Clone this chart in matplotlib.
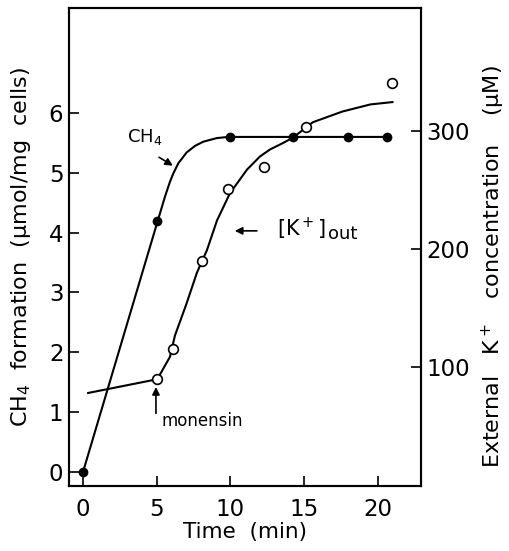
import matplotlib
matplotlib.use("Agg")
import matplotlib.pyplot as plt

plt.rcParams['font.family'] = ['DejaVu Sans']
plt.rcParams['mathtext.default'] = 'regular'

# CH4 formation (left axis, umol/mg cells) - filled circles
ch4_time = [0, 5, 10, 14.25, 18, 20.6]
ch4_val = [0, 4.2, 5.6, 5.6, 5.6, 5.6]
# hand-drawn curve through the CH4 points
ch4_curve_t = [0, 5.05, 5.56, 5.9, 6.13, 6.47, 7.03, 7.6, 8.16, 9.07, 9.85, 20.6]
ch4_curve_y = [0, 4.18, 4.6, 4.85, 4.99, 5.16, 5.34, 5.45, 5.52, 5.58, 5.6, 5.6]

# external K+ (right axis, uM) - open circles
k_time = [5, 6.1, 8.05, 9.85, 12.3, 15.1, 21.0]
k_val = [90, 116, 190, 251, 269, 303, 340]
k_curve_t = [0.35, 5.0, 5.22, 5.9, 6.24, 7.0, 7.73, 8.41, 9.09, 9.97, 11.13,
             12.0, 12.69, 13.5, 14.25, 15.6, 17.6, 19.5, 21.0]
k_curve_v = [78.5, 90, 94, 109, 127, 153, 180, 199, 224, 247, 267,
             278, 284, 289, 294, 307, 316, 322, 324]

fig = plt.figure(figsize=(5.10, 5.51), dpi=100)
ax = fig.add_axes([0.1353, 0.118, 0.690, 0.8675])
ax2 = ax.twinx()

lw = 1.5
ax.plot(ch4_curve_t, ch4_curve_y, color='k', lw=lw)
ax.plot(ch4_time, ch4_val, 'o', color='k', ms=6, zorder=5)

ax2.plot(k_curve_t, k_curve_v, color='k', lw=lw)
ax2.plot(k_time, k_val, 'o', mfc='white', mec='k', mew=1.2, ms=7, zorder=5)

ax.set_xlim(-0.95, 22.93)
ax.set_ylim(-0.234, 7.755)
ax2.set_ylim(0, 403.4)

ax.set_xticks([0, 5, 10, 15, 20])
ax.set_yticks([0, 1, 2, 3, 4, 5, 6])
ax2.set_yticks([100, 200, 300])

for a in (ax, ax2):
    for s in a.spines.values():
        s.set_linewidth(1.5)
ax.tick_params(axis='both', direction='in', length=7, width=1.2, labelsize=16.5)
ax.tick_params(axis='x', pad=9)
ax.tick_params(axis='y', pad=4)
ax2.tick_params(axis='y', direction='in', length=7, width=1.2, labelsize=16.5, pad=4)

ax.set_xlabel('Time  (min)', fontsize=15.5)
ax.xaxis.set_label_coords(0.5, -0.075)
ax.set_ylabel('CH$_4$  formation  ($\\mu$mol/mg  cells)', fontsize=16)
ax.yaxis.set_label_coords(-0.102, 0.5)
ax2.set_ylabel('External   K$^+$   concentration    ($\\mu$M)', fontsize=16,
               rotation=90)
ax2.yaxis.set_label_coords(1.168, 0.46)

arrow = dict(arrowstyle='-|>', color='k', lw=1.2, mutation_scale=11,
             shrinkA=0, shrinkB=0)

ax.text(4.2, 5.6, 'CH$_4$', fontsize=13, ha='center', va='center')
ax.annotate('', xy=(6.1, 5.12), xytext=(5.16, 5.26), arrowprops=arrow)

ax.annotate('', xy=(10.3, 4.03), xytext=(11.8, 4.03), arrowprops=arrow)
ax.text(13.15, 4.06, '[K$^+$]', fontsize=15, ha='left', va='center')
ax.text(16.6, 3.89, 'out', fontsize=13, ha='left', va='baseline')

ax.annotate('', xy=(4.95, 1.42), xytext=(4.95, 0.98), arrowprops=arrow)
ax.text(5.35, 0.85, 'monensin', fontsize=12, ha='left', va='center')

fig.savefig('out.png', dpi=100)
